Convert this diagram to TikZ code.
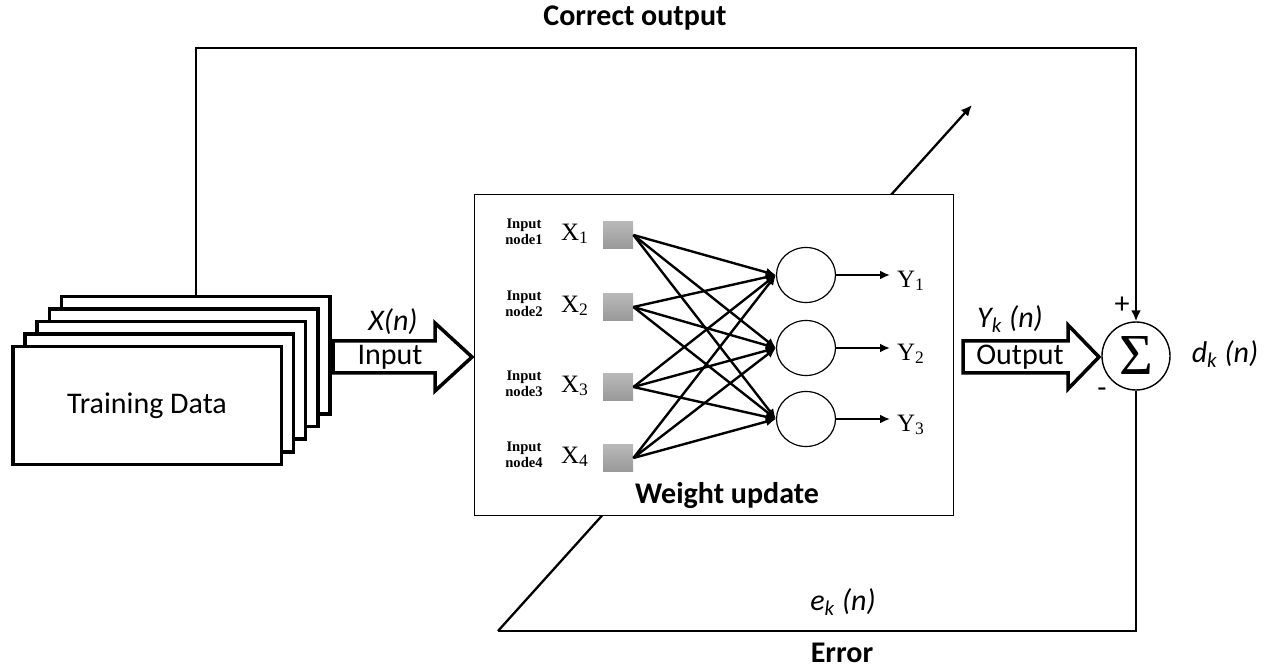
\documentclass[tikz,border=0pt]{standalone}
\usepackage{fontspec}
\setmainfont{Carlito}
\newfontfamily\timesfont{Liberation Serif}
\usetikzlibrary{arrows.meta,positioning,shapes.geometric}

\begin{document}
\begin{tikzpicture}[
  x=0.5pt, y=-0.5pt,
  font=\fontsize{15}{18}\selectfont,
  page/.style={rectangle, draw, fill=white, line width=1.75pt, minimum width=134.25pt, minimum height=58.75pt},
  block/.style={draw, fill=white, line width=1.75pt, line join=miter},
  line/.style={line width=1.15pt},
  arr/.style={line, -{Latex[length=5.5pt,width=5pt]}},
  link/.style={line width=1.2pt, -{Latex[length=5pt,width=4.5pt]}},
  netbox/.style={rectangle, draw, fill=white, line width=0.7pt, minimum width=239.3pt, minimum height=160.3pt},
  innode/.style={rectangle, top color=gray!55, bottom color=gray!80, minimum width=15pt, minimum height=13.5pt, inner sep=0pt},
  neuron/.style={ellipse, draw, line width=0.6pt, minimum width=29.5pt, minimum height=27.5pt, inner sep=0pt},
  sumnode/.style={circle, draw, line width=0.7pt, minimum size=34pt, inner sep=0pt},
  tlabel/.style={font=\timesfont\fontsize{12.5}{14}\selectfont},
  nlabel/.style={font=\timesfont\bfseries\fontsize{7.3}{8}\selectfont, align=center, inner sep=0pt},
  title/.style={font=\bfseries\fontsize{15}{18}\selectfont}
]
\useasboundingbox (0,0) rectangle (1270,668);

% weight adjustment line, passes behind the network
\coordinate (errcorner) at (498,631);
\coordinate (adjust) at (972,105);
\draw[arr] (errcorner) -- (adjust);

% network
\node[netbox] (net) at (714,355) {};
\foreach \i/\y in {1/235,2/307,3/387,4/458} {
  \node[innode] (in\i) at (618,\y) {};
  \node[tlabel] (x\i) at (575,\y-1) {X\textsubscript{\i}};
  \node[nlabel] (lbl\i) at (524,\y-3) {Input\\node\i};
}
\foreach \j/\y in {1/275,2/348,3/419}
  \node[neuron] (out\j) at (806,\y) {};
\foreach \i in {1,...,4}
  \foreach \j in {1,2,3}
    \draw[link] (in\i.east) -- (out\j.west);
\foreach \j/\y in {1/275,2/348,3/419} {
  \node[tlabel, anchor=west] (y\j) at (890,\y+6) {Y\textsubscript{\j}};
  \draw[link, line width=1pt] (out\j.east) -- (out\j.east -| y\j.west);
}
\node[title] (wupd) at (727,496) {Weight update};

% training data stack
\foreach \i in {4,3,2,1}
  \node[page] (page\i) at ({147+12.2*\i},{405.5-12.5*\i}) {};
\node[page] (data) at (147,405.5) {Training Data};

% input arrow
\draw[block] (333,341) -- (435,341) -- (435,323) -- (472,357) -- (435,391) -- (435,373) -- (333,373) -- cycle;
\node (inlbl) at (390,357) {Input};
\node (xn) at (393,322) {\itshape X(n)};

% summing junction
\node[sumnode] (sum) at (1136,356) {\timesfont\fontsize{29}{30}\selectfont Σ};
\draw[block] (963,341) -- (1068,341) -- (1068,325) -- (1099,357) -- (1068,389) -- (1068,373) -- (963,373) -- cycle;
\node (outlbl) at (1020,357) {Output};
\node (yk) at (1010,319) {\itshape Y\textsubscript{k} (n)};
\node (dk) at (1225,354) {\itshape d\textsubscript{k} (n)};
\node (plus) at (1122,305) {+};
\node (minus) at (1102,393) {-};

% correct output
\coordinate (topright) at (1136,48);
\draw[arr] (page4.north) |- (topright) -- (sum.north);
\node[title] (correct) at (635,18) {Correct output};

% error
\draw[line] (sum.south) |- (errcorner);
\node (ek) at (843,602) {\itshape e\textsubscript{k} (n)};
\node[title, inner sep=0pt] (err) at (842,653) {Error};
\end{tikzpicture}
\end{document}
